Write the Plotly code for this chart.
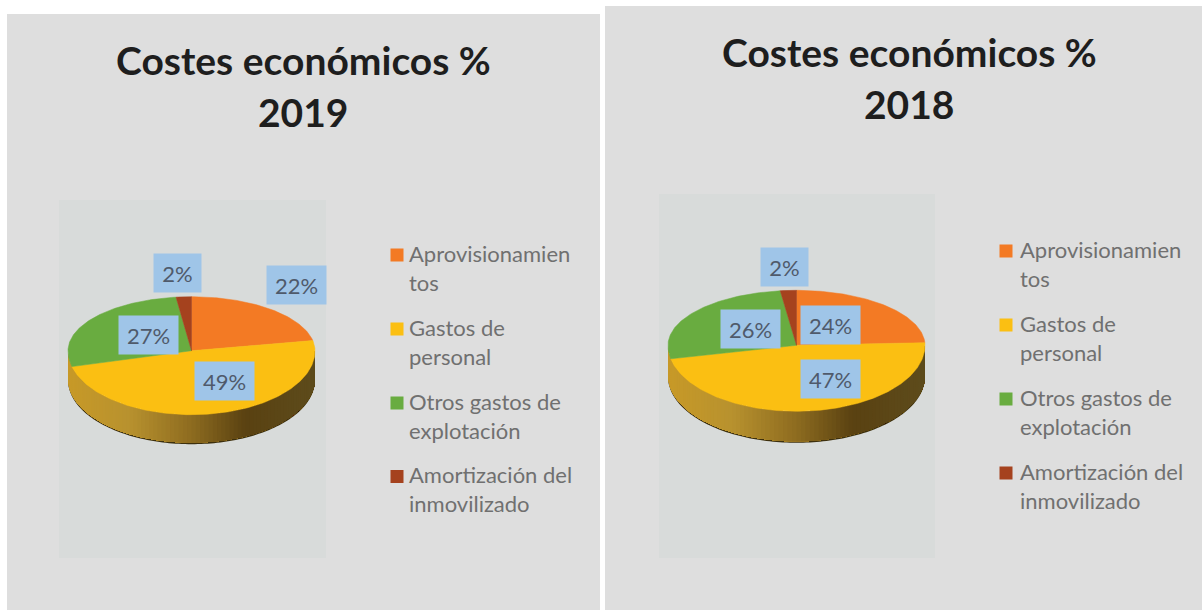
import numpy as np
import plotly.graph_objects as go

# ---- data ----
categories = ["Aprovisionamien<br>tos", "Gastos de<br>personal",
              "Otros gastos de<br>explotación", "Amortización del<br>inmovilizado"]
values_2019 = [22, 49, 27, 2]
values_2018 = [24, 47, 26, 2]
title_line = "Costes económicos %"
years = ["2019", "2018"]

# ---- styles ----
slice_colors = ["#F37A24", "#FBBF12", "#69AC40", "#A5421E"]
side_stops = [(0.0, "#C89A28"), (0.25, "#B8922F"), (0.5, "#8E6C20"),
              (0.72, "#5A4212"), (1.0, "#5E4C1C")]
PANEL = "#DEDEDE"
PLOTBG = "#D8DBDA"
BOX = "#9FC5E8"

# layout of each panel, in page pixels
panels = [
    dict(values=values_2019, year=years[0], panel=(7, 600, 14, 610), plot=(59, 326, 200, 558),
         cx=191.5, cy=350.7, rx=123.5, top=54, bottom=64, thick=28,
         title=(303, 60, 112),
         boxes=[(296.5, 285), (224.5, 381), (148.5, 334.5), (177.5, 273)],
         sq_x=397, text_x=407, leg_y=[255, 329, 403, 476.5], text_dy=-2),
    dict(values=values_2018, year=years[1], panel=(605, 1202, 6, 610), plot=(659, 935, 194, 558),
         cx=796.5, cy=345.3, rx=128.5, top=55, bottom=66, thick=30,
         title=(909, 52, 104),
         boxes=[(830, 325), (830, 378.5), (750, 329), (784, 266.5)],
         sq_x=1006, text_x=1018, leg_y=[251, 325, 399, 473], text_dy=-2),
]


def hex_rgb(h):
    return np.array([int(h[i:i + 2], 16) for i in (1, 3, 5)], dtype=float)


def side_color(f):
    for (a, ca), (b, cb) in zip(side_stops, side_stops[1:]):
        if f <= b:
            c = hex_rgb(ca) + (hex_rgb(cb) - hex_rgb(ca)) * (f - a) / (b - a)
            return "rgb(%d,%d,%d)" % tuple(c)
    return side_stops[-1][1]


def ex(p, t):
    return p["cx"] + p["rx"] * np.sin(t)


def ey(p, t):
    c = np.cos(t)
    return p["cy"] - np.where(c > 0, p["top"], p["bottom"]) * c


fig = go.Figure()
shapes = []
annotations = []

for p in panels:
    x0, x1, y0, y1 = p["panel"]
    shapes.append(dict(type="rect", x0=x0, x1=x1, y0=y0, y1=y1, fillcolor=PANEL, line_width=0, layer="below"))
    x0, x1, y0, y1 = p["plot"]
    shapes.append(dict(type="rect", x0=x0, x1=x1, y0=y0, y1=y1, fillcolor=PLOTBG, line_width=0, layer="below"))

    # dark rim under the pie wall
    t = np.linspace(np.pi / 2, 3 * np.pi / 2, 121)
    rim_x = np.r_[ex(p, t), ex(p, t[::-1])]
    rim_y = np.r_[ey(p, t) + p["thick"] + 1.5, ey(p, t[::-1])]
    fig.add_trace(go.Scatter(x=rim_x, y=rim_y, fill="toself", fillcolor="#3E300C", mode="none",
                             hoverinfo="skip", showlegend=False))

    # pie wall: painted left to right, each strip reaching the right end so no seams show
    n = 90
    edges = np.linspace(3 * np.pi / 2, np.pi / 2, n + 1)
    for i in range(n):
        s = np.linspace(edges[i], np.pi / 2, max(n - i, 2) + 1)
        sx = ex(p, s)
        f = (0.5 * (sx[0] + ex(p, edges[i + 1])) - (p["cx"] - p["rx"])) / (2 * p["rx"])
        fig.add_trace(go.Scatter(
            x=np.r_[sx, sx[::-1]], y=np.r_[ey(p, s), ey(p, s[::-1]) + p["thick"]],
            fill="toself", fillcolor=side_color(f), mode="none", hoverinfo="skip", showlegend=False))

    # pie top: one wedge per value, clockwise from twelve o'clock
    ends = np.cumsum(p["values"]) / np.sum(p["values"]) * 2 * np.pi
    starts = np.r_[0, ends[:-1]]
    for a, b, col, name, val in zip(starts, ends, slice_colors, categories, p["values"]):
        t = np.linspace(a, b, max(int((b - a) * 60), 4))
        fig.add_trace(go.Scatter(
            x=np.r_[p["cx"], ex(p, t), p["cx"]], y=np.r_[p["cy"], ey(p, t), p["cy"]],
            fill="toself", fillcolor=col, mode="lines", line=dict(color=col, width=0.5),
            name=name.replace("<br>", " "), text=f"{val}%", hoverinfo="name+text", showlegend=False))

    # value labels
    for (bx, by), val in zip(p["boxes"], p["values"]):
        annotations.append(dict(x=bx, y=by, text=f"{val}%", showarrow=False, width=59 if val > 9 else 47,
                                height=38, bgcolor=BOX, borderpad=0, align="center",
                                font=dict(family="Lato", size=22, color="#4F5A6B")))

    # legend
    fig.add_trace(go.Scatter(x=[p["sq_x"]] * 4, y=p["leg_y"], mode="markers",
                             marker=dict(symbol="square", size=13, color=slice_colors, line_width=0),
                             hoverinfo="skip", showlegend=False))
    for name, ly in zip(categories, p["leg_y"]):
        for j, line in enumerate(name.split("<br>")):
            annotations.append(dict(x=p["text_x"], y=ly + p["text_dy"] + j * 29, text=line, showarrow=False,
                                    xanchor="left", font=dict(family="Lato", size=22, color="#707070")))

    # titles
    tx, ty1, ty2 = p["title"]
    annotations.append(dict(x=tx, y=ty1, text=f"<b>{title_line}</b>", showarrow=False,
                            font=dict(family="Lato", size=39, color="#1E1E1E")))
    annotations.append(dict(x=tx, y=ty2, text=f"<b>{p['year']}</b>", showarrow=False,
                            font=dict(family="Lato", size=39, color="#1E1E1E")))

fig.update_layout(
    width=1202, height=610, margin=dict(l=0, r=0, t=0, b=0), paper_bgcolor="white", plot_bgcolor="white",
    xaxis=dict(range=[0, 1202], visible=False, fixedrange=True),
    yaxis=dict(range=[610, 0], visible=False, fixedrange=True),
    shapes=shapes, annotations=annotations, showlegend=False,
)
fig.write_html("out.html", config=dict(displayModeBar=False),
               post_script="document.body.style.margin='0';document.documentElement.style.overflow='hidden';")
